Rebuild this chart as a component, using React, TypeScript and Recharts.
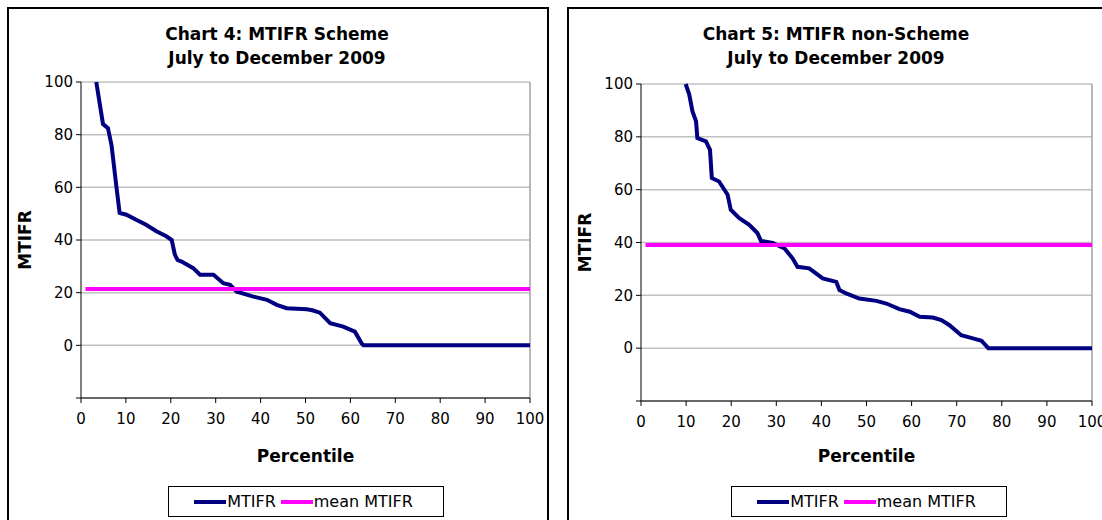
import React from "react";
import {
  LineChart,
  Line,
  XAxis,
  YAxis,
  CartesianGrid,
  ReferenceLine,
  Legend,
} from "recharts";

const FONT = "'DejaVu Sans', Verdana, sans-serif";

const percentileTicks = [0, 10, 20, 30, 40, 50, 60, 70, 80, 90, 100];
const mtifrTicks = [-20, 0, 20, 40, 60, 80, 100];

// Chart 4: MTIFR Scheme
const schemePercentile = [
  3.4, 4.9, 6.0, 6.8, 7.9, 8.6, 10.1, 12.3, 14.5, 16.8, 19.0, 20.2, 20.9, 21.5,
  22.4, 25.0, 26.5, 29.5, 31.7, 33.2, 34.7, 38.4, 41.4, 43.6, 45.8, 50.3, 51.5,
  53.2, 55.5, 58.4, 61.0, 62.5, 62.9, 100,
];
const schemeMtifr = [
  100, 84, 82.5, 76, 60, 50.3, 49.6, 47.7, 45.8, 43.3, 41.4, 40, 34.5, 32.4,
  31.8, 29.3, 26.8, 26.8, 23.6, 23, 20.4, 18.5, 17.3, 15.4, 14.1, 13.7, 13.3,
  12.4, 8.4, 7.1, 5.2, 0.8, 0, 0,
];
const schemeMeanPercentile = [1, 100];
const schemeMean = [21.4, 21.4];

// Chart 5: MTIFR non-Scheme
const nonSchemePercentile = [
  9.9, 10.7, 11.4, 12.2, 12.5, 14.4, 15.3, 15.7, 17.3, 19.2, 19.9, 21.8, 24.0,
  25.8, 26.6, 29.2, 31.8, 33.6, 34.7, 37.3, 40.3, 43.3, 44.0, 45.5, 48.4, 52.2,
  54.4, 57.3, 59.6, 61.8, 64.7, 66.6, 68.4, 71.0, 73.6, 75.5, 77.0, 100,
];
const nonSchemeMtifr = [
  100, 96, 89.7, 85.9, 79.5, 78.3, 75.1, 64.4, 63.1, 58.1, 52.4, 49.2, 46.7,
  43.6, 40.6, 39.8, 37.8, 34, 30.8, 30.2, 26.4, 25.1, 22, 20.7, 18.8, 17.9,
  16.9, 14.8, 13.8, 11.9, 11.6, 10.6, 8.7, 4.9, 3.7, 2.8, 0, 0,
];
const nonSchemeMeanPercentile = [1, 100];
const nonSchemeMean = [39.1, 39.1];

const toPoints = (xs: number[], ys: number[]) =>
  xs.map((pct, i) => ({ pct, value: ys[i] }));

function renderLegend(props: any) {
  const items = props.payload || [];
  return (
    <div
      style={{
        border: "1.5px solid #000",
        height: 31,
        boxSizing: "border-box",
        display: "flex",
        alignItems: "center",
        justifyContent: "center",
        fontFamily: FONT,
        fontSize: 16,
        background: "#fff",
        color: "#000",
      }}
    >
      {items.map((entry: any) => (
        <span
          key={entry.value}
          style={{ display: "flex", alignItems: "center", marginRight: 5 }}
        >
          <span
            style={{
              display: "inline-block",
              width: 32,
              height: 4,
              background: entry.color,
              marginRight: 1,
            }}
          />
          {entry.value}
        </span>
      ))}
    </div>
  );
}

function MtifrChart({
  left,
  width,
  rightPad,
  top,
  bottomPlot,
  legendLeft,
  lineData,
  meanData,
}: {
  left: number;
  width: number;
  rightPad: number;
  top: number;
  bottomPlot: number;
  legendLeft: number;
  lineData: { pct: number; value: number }[];
  meanData: { pct: number; value: number }[];
}) {
  const height = 520;
  const legendH = 31;
  const xAxisH = 486 - bottomPlot;
  return (
    <div style={{ position: "absolute", left, top: 0 }}>
      <LineChart
        width={width}
        height={height}
        margin={{ top, right: rightPad, bottom: height - 486 - legendH, left: 11 }}
      >
        <CartesianGrid vertical={false} stroke="#c0c0c0" strokeWidth={1.5} />
        <XAxis
          type="number"
          dataKey="pct"
          domain={[0, 100]}
          ticks={percentileTicks}
          interval={0}
          height={xAxisH}
          stroke="#000"
          tickLine={{ stroke: "#000" }}
          tickSize={5}
          tickMargin={10}
          tick={{ fill: "#000", fontSize: 15, fontFamily: FONT }}
          label={{
            value: "Percentile",
            position: "insideBottom",
            offset: 24,
            style: { fontWeight: "bold", fontSize: 17, fill: "#000", fontFamily: FONT },
          }}
        />
        <YAxis
          type="number"
          domain={[-20, 100]}
          ticks={mtifrTicks}
          interval={0}
          width={70}
          stroke="#000"
          tickLine={{ stroke: "#000" }}
          tickSize={5}
          tickMargin={3}
          tick={{ fill: "#000", fontSize: 15, fontFamily: FONT }}
          tickFormatter={(v) => (v === -20 ? "" : String(v))}
          label={{
            value: "MTIFR",
            angle: -90,
            position: "insideLeft",
            offset: 14,
            style: {
              textAnchor: "middle",
              fontWeight: "bold",
              fontSize: 17,
              fill: "#000",
              fontFamily: FONT,
            },
          }}
        />
        <ReferenceLine x={100} stroke="#a0a0a0" strokeWidth={1.5} />
        <Line
          data={lineData}
          dataKey="value"
          name="MTIFR"
          type="linear"
          stroke="#000080"
          strokeWidth={4}
          dot={false}
          isAnimationActive={false}
        />
        <Line
          data={meanData}
          dataKey="value"
          name="mean MTIFR"
          type="linear"
          stroke="#ff00ff"
          strokeWidth={4}
          dot={false}
          isAnimationActive={false}
        />
        <Legend
          content={renderLegend}
          verticalAlign="bottom"
          wrapperStyle={{ left: legendLeft, width: 276, bottom: height - 486 - legendH }}
        />
      </LineChart>
    </div>
  );
}

const titleStyle: React.CSSProperties = {
  position: "absolute",
  top: 22,
  textAlign: "center",
  fontFamily: FONT,
  fontWeight: "bold",
  fontSize: 17,
  lineHeight: "24px",
  color: "#000",
};

export default function App() {
  return (
    <div
      style={{
        position: "fixed",
        left: 0,
        top: 0,
        width: 1102,
        height: 520,
        overflow: "hidden",
        background: "#fff",
      }}
    >
      <div
        style={{
          position: "absolute",
          left: 7,
          top: 7,
          width: 538,
          height: 600,
          border: "2px solid #000",
        }}
      />
      <div
        style={{
          position: "absolute",
          left: 567,
          top: 7,
          width: 600,
          height: 600,
          border: "2px solid #000",
        }}
      />
      <div style={{ ...titleStyle, left: 77, width: 400 }}>
        Chart 4: MTIFR Scheme
        <br />
        July to December 2009
      </div>
      <div style={{ ...titleStyle, left: 636, width: 400 }}>
        Chart 5: MTIFR non-Scheme
        <br />
        July to December 2009
      </div>
      <MtifrChart
        left={0}
        width={547}
        rightPad={17}
        top={82}
        bottomPlot={398}
        legendLeft={168}
        lineData={toPoints(schemePercentile, schemeMtifr)}
        meanData={toPoints(schemeMeanPercentile, schemeMean)}
      />
      <MtifrChart
        left={560}
        width={542}
        rightPad={10}
        top={84}
        bottomPlot={401}
        legendLeft={171}
        lineData={toPoints(nonSchemePercentile, nonSchemeMtifr)}
        meanData={toPoints(nonSchemeMeanPercentile, nonSchemeMean)}
      />
    </div>
  );
}
